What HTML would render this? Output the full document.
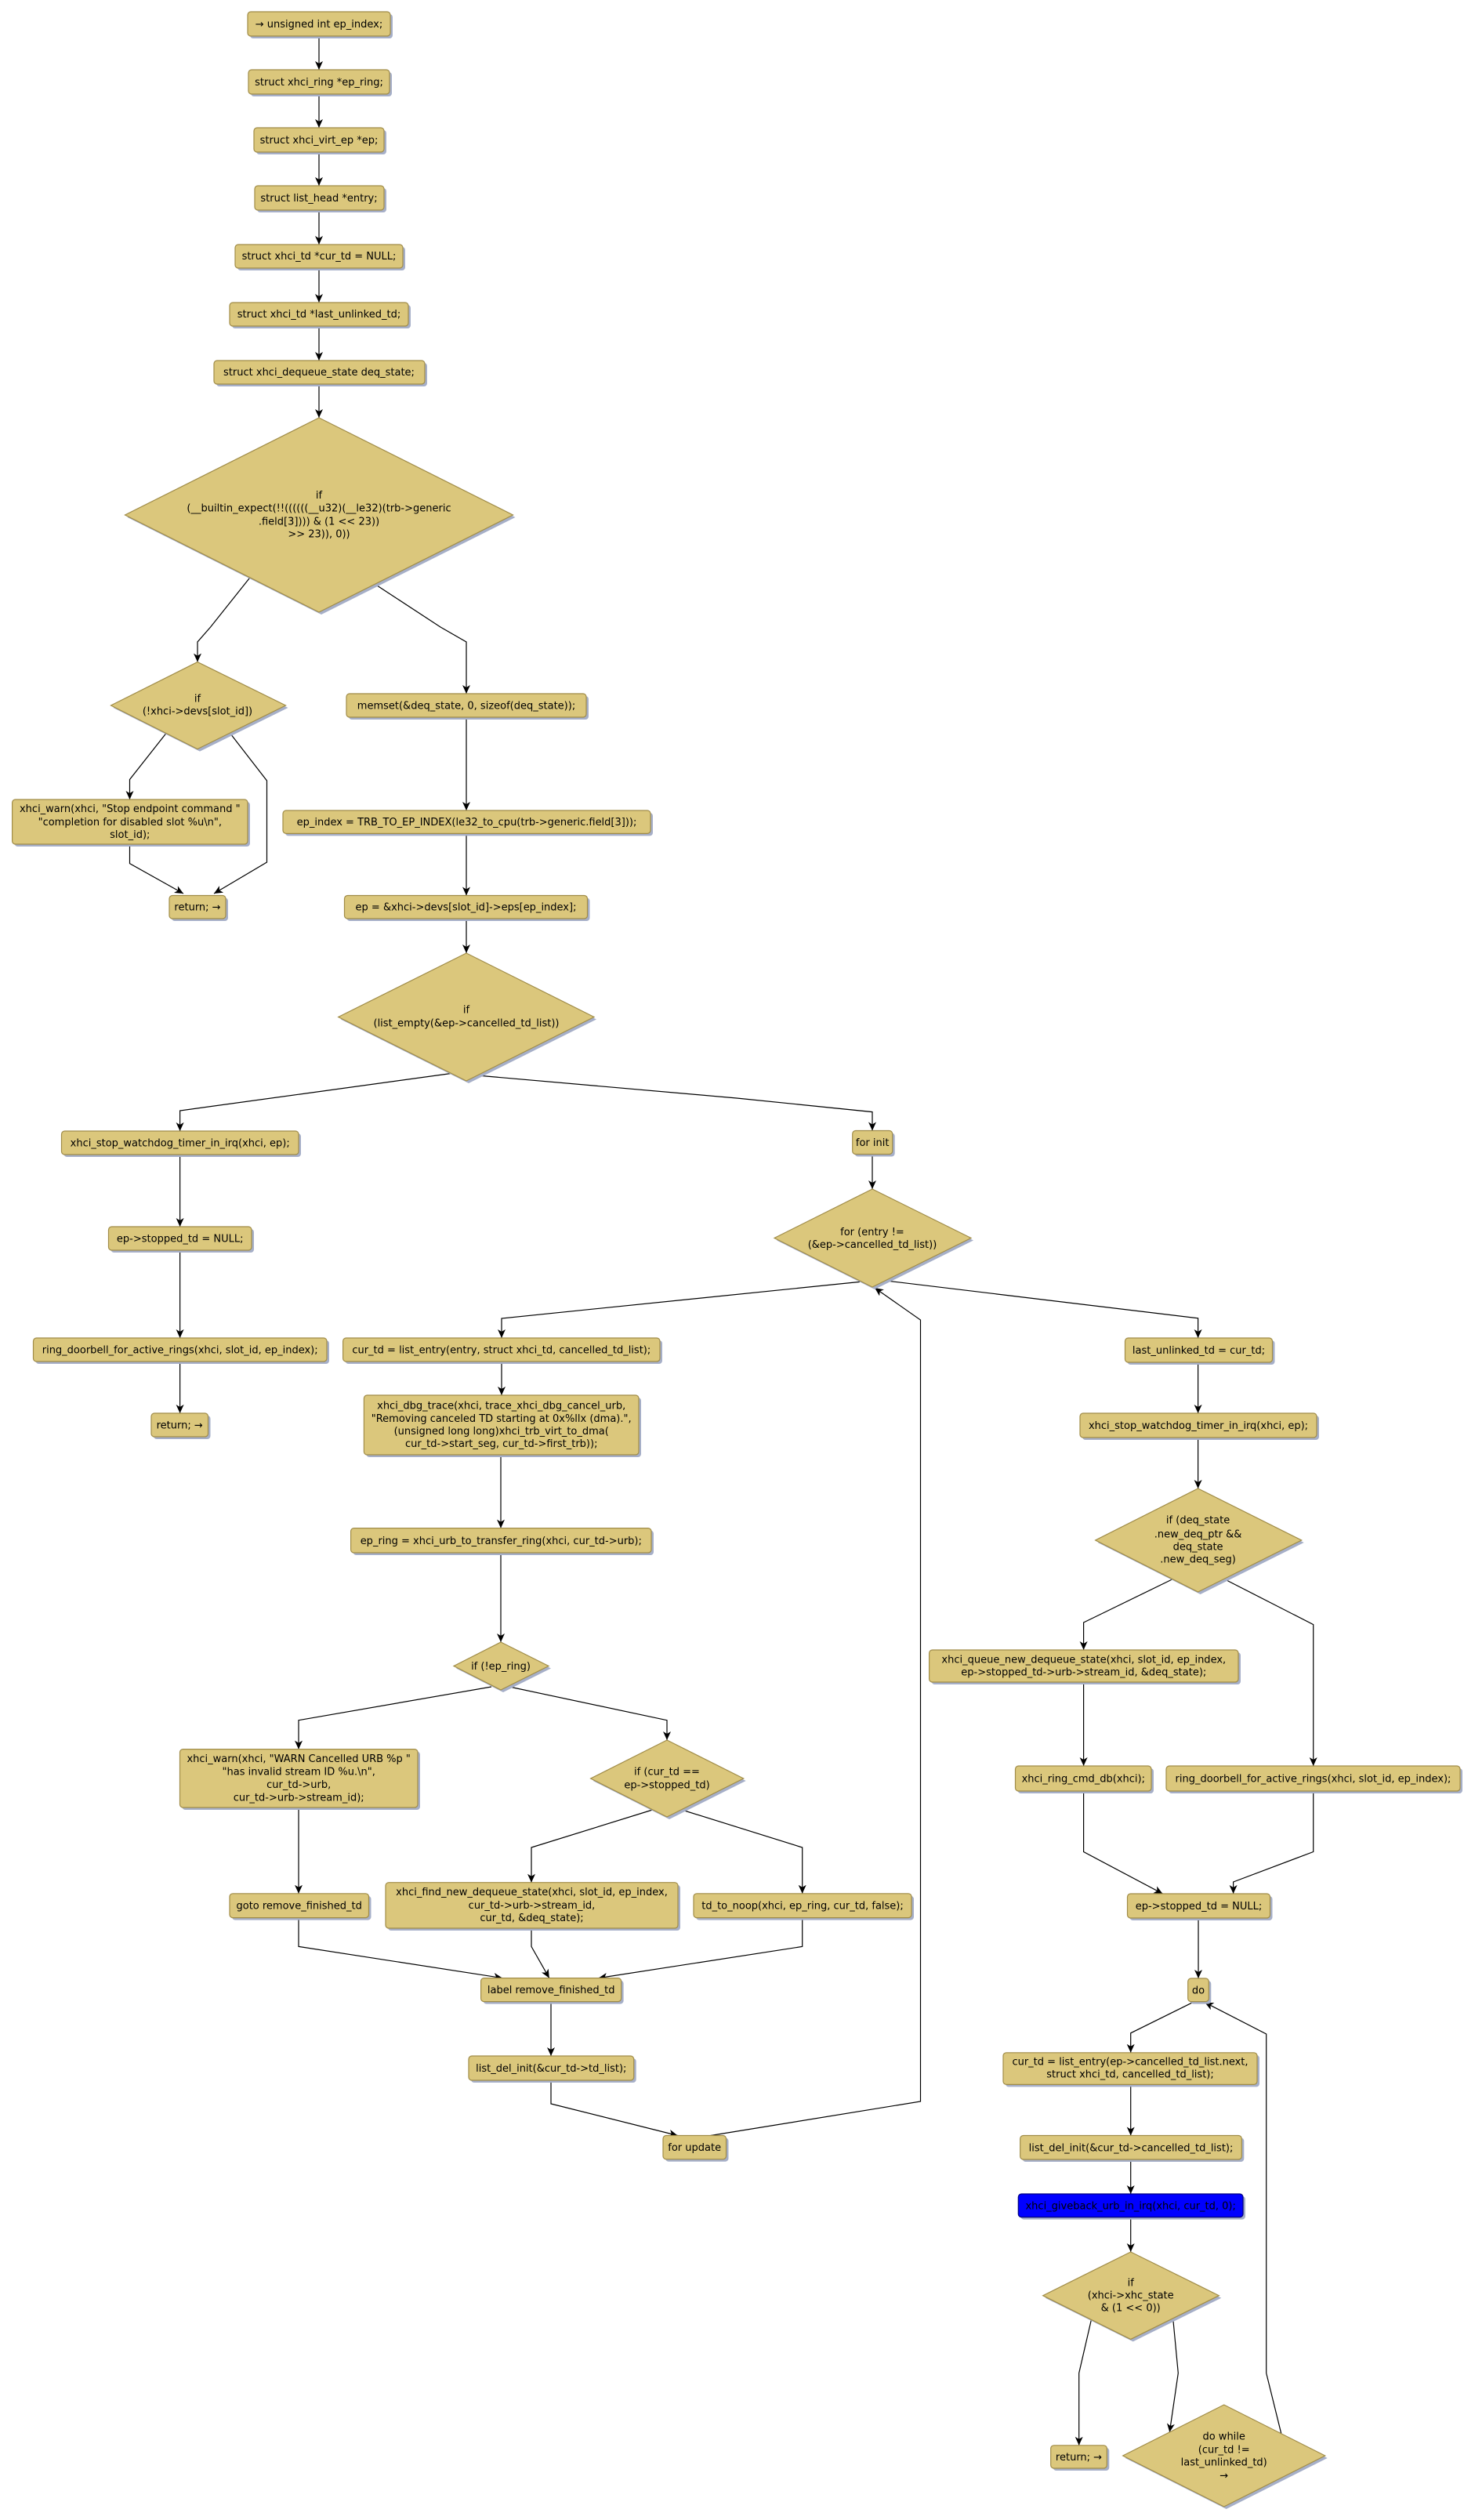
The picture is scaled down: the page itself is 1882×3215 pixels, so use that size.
<!DOCTYPE html>
<html><head><meta charset="utf-8"><style>
html,body{margin:0;padding:0;background:#fff;}
svg{display:block;}
text{font-family:"DejaVu Sans","Liberation Sans",sans-serif;font-size:13px;fill:#000;text-anchor:middle;}
.b{fill:#dbc77c;stroke:#a08c48;stroke-width:1.2;}
.s{fill:#a6afc8;}
.e{fill:none;stroke:#000;stroke-width:1.2;marker-end:url(#a);}
</style></head><body>
<svg width="1882" height="3215" viewBox="0 0 1882 3215" xmlns="http://www.w3.org/2000/svg">
<defs><marker id="a" markerUnits="userSpaceOnUse" markerWidth="14" markerHeight="12" refX="11" refY="5" orient="auto"><path d="M0,0 L11,5 L0,10 L3,5 z" fill="#000"/></marker></defs>

<!-- edges -->
<g>
<path class="e" d="M407,46 L407,89"/>
<path class="e" d="M407,120 L407,163"/>
<path class="e" d="M407,194 L407,237"/>
<path class="e" d="M407,268 L407,312"/>
<path class="e" d="M407,342 L407,386"/>
<path class="e" d="M407,416 L407,460"/>
<path class="e" d="M407,490 L407,533"/>
<path class="e" d="M319.6,736 L268.6,800 L252,819 L252,844.6"/>
<path class="e" d="M478,745 L562,800 L595,819 L595,885"/>
<path class="e" d="M211.6,936 L165.5,994.5 L165.5,1020"/>
<path class="e" d="M294,936 L340.5,996 L340.5,1100 L273,1140"/>
<path class="e" d="M165.5,1077 L165.5,1101.7 L234,1140"/>
<path class="e" d="M595,915 L595,1034"/>
<path class="e" d="M595,1063.4 L595,1142.5"/>
<path class="e" d="M595,1172 L595,1216"/>
<path class="e" d="M575.5,1369.5 L229.6,1417 L229.6,1443"/>
<path class="e" d="M608.5,1372 L940,1401 L1113,1418.6 L1113,1442.5"/>
<path class="e" d="M229.6,1473 L229.6,1565"/>
<path class="e" d="M229.6,1595 L229.6,1707"/>
<path class="e" d="M229.6,1737 L229.6,1803"/>
<path class="e" d="M1113,1472.6 L1113,1517"/>
<path class="e" d="M1097,1635.4 L640,1682 L640,1707"/>
<path class="e" d="M1131,1634 L1528.6,1681.8 L1528.6,1707"/>
<path class="e" d="M640,1737 L640,1780"/>
<path class="e" d="M639,1856 L639,1949.6"/>
<path class="e" d="M639,1981 L639,2095"/>
<path class="e" d="M627,2152 L381,2194.7 L381,2231.6"/>
<path class="e" d="M650,2152 L851,2194.7 L851,2220"/>
<path class="e" d="M381,2306 L381,2415.8"/>
<path class="e" d="M832.5,2309 L678,2357 L678,2401.7"/>
<path class="e" d="M870,2309 L1023.7,2357 L1023.7,2415.8"/>
<path class="e" d="M381,2446.6 L381,2483.4 L641,2523.6"/>
<path class="e" d="M678,2460 L678,2483.4 L700.8,2523.6"/>
<path class="e" d="M1023.7,2446.6 L1023.7,2483.4 L763.6,2523.6"/>
<path class="e" d="M703,2553.7 L703,2623"/>
<path class="e" d="M703,2654 L703,2684 L864.6,2724.5"/>
<path class="e" d="M906.7,2724.5 L1174.5,2681 L1174.5,1684 L1116,1643"/>
<path class="e" d="M1528.6,1738 L1528.6,1803"/>
<path class="e" d="M1528.6,1834 L1528.6,1899"/>
<path class="e" d="M1495.5,2015 L1382.6,2070 L1382.6,2105"/>
<path class="e" d="M1563,2015 L1675.7,2072.6 L1675.7,2253"/>
<path class="e" d="M1382.6,2146 L1382.6,2253"/>
<path class="e" d="M1382.6,2285 L1382.6,2362.5 L1483.5,2416"/>
<path class="e" d="M1675.7,2285 L1675.7,2362.5 L1573.6,2401 L1573.6,2416"/>
<path class="e" d="M1529,2447 L1529,2524"/>
<path class="e" d="M1521.7,2554.7 L1442.7,2593.8 L1442.7,2618.8"/>
<path class="e" d="M1635,3105.7 L1615.7,3027.6 L1615.7,2595 L1537.3,2554.7"/>
<path class="e" d="M1442.7,2659.4 L1442.7,2724.5"/>
<path class="e" d="M1442.7,2755 L1442.7,2799"/>
<path class="e" d="M1442.7,2828.6 L1442.7,2873"/>
<path class="e" d="M1392.3,2960 L1376.7,3027.6 L1376.7,3119.8"/>
<path class="e" d="M1496.7,2958 L1503.3,3027.6 L1492.3,3103"/>
</g>

<!-- boxes: shadow + box -->
<g>
<rect class="s" x="319" y="18" width="182" height="31" rx="4"/><rect class="b" x="316" y="15" width="182" height="31" rx="4"/>
<rect class="s" x="320" y="92" width="180" height="31" rx="4"/><rect class="b" x="317" y="89" width="180" height="31" rx="4"/>
<rect class="s" x="327" y="166" width="166" height="31" rx="4"/><rect class="b" x="324" y="163" width="166" height="31" rx="4"/>
<rect class="s" x="328" y="240" width="165" height="31" rx="4"/><rect class="b" x="325" y="237" width="165" height="31" rx="4"/>
<rect class="s" x="303" y="315" width="214" height="30" rx="4"/><rect class="b" x="300" y="312" width="214" height="30" rx="4"/>
<rect class="s" x="296" y="389" width="228" height="30" rx="4"/><rect class="b" x="293" y="386" width="228" height="30" rx="4"/>
<rect class="s" x="276" y="463" width="269" height="30" rx="4"/><rect class="b" x="273" y="460" width="269" height="30" rx="4"/>

<rect class="s" x="445" y="888" width="306" height="30" rx="4"/><rect class="b" x="442" y="885" width="306" height="30" rx="4"/>
<rect class="s" x="18.6" y="1023" width="300.4" height="57" rx="4"/><rect class="b" x="15.6" y="1020" width="300.4" height="57" rx="4"/>
<rect class="s" x="219" y="1145.5" width="72" height="29.5" rx="4"/><rect class="b" x="216" y="1142.5" width="72" height="29.5" rx="4"/>
<rect class="s" x="364" y="1037" width="469" height="29.4" rx="4"/><rect class="b" x="361" y="1034" width="469" height="29.4" rx="4"/>
<rect class="s" x="442.5" y="1145.5" width="310" height="29.5" rx="4"/><rect class="b" x="439.5" y="1142.5" width="310" height="29.5" rx="4"/>
<rect class="s" x="81.5" y="1446" width="302.5" height="30" rx="4"/><rect class="b" x="78.5" y="1443" width="302.5" height="30" rx="4"/>
<rect class="s" x="141.5" y="1568" width="182.5" height="30" rx="4"/><rect class="b" x="138.5" y="1565" width="182.5" height="30" rx="4"/>
<rect class="s" x="45.5" y="1710" width="374.5" height="30" rx="4"/><rect class="b" x="42.5" y="1707" width="374.5" height="30" rx="4"/>
<rect class="s" x="196" y="1806" width="72.5" height="30" rx="4"/><rect class="b" x="193" y="1803" width="72.5" height="30" rx="4"/>
<rect class="s" x="1090.7" y="1445.5" width="51" height="30" rx="4"/><rect class="b" x="1087.7" y="1442.5" width="51" height="30" rx="4"/>
<rect class="s" x="440.6" y="1710" width="404.4" height="30" rx="4"/><rect class="b" x="437.6" y="1707" width="404.4" height="30" rx="4"/>
<rect class="s" x="467.4" y="1783" width="350.6" height="76" rx="4"/><rect class="b" x="464.4" y="1780" width="350.6" height="76" rx="4"/>
<rect class="s" x="450.6" y="1952.6" width="383.4" height="31.4" rx="4"/><rect class="b" x="447.6" y="1949.6" width="383.4" height="31.4" rx="4"/>
<rect class="s" x="232.5" y="2234.6" width="303.5" height="74.4" rx="4"/><rect class="b" x="229.5" y="2231.6" width="303.5" height="74.4" rx="4"/>
<rect class="s" x="296" y="2418.8" width="177.5" height="30.8" rx="4"/><rect class="b" x="293" y="2415.8" width="177.5" height="30.8" rx="4"/>
<rect class="s" x="495" y="2404.7" width="373" height="58.3" rx="4"/><rect class="b" x="492" y="2401.7" width="373" height="58.3" rx="4"/>
<rect class="s" x="888" y="2418.8" width="278" height="30.8" rx="4"/><rect class="b" x="885" y="2415.8" width="278" height="30.8" rx="4"/>
<rect class="s" x="616.6" y="2526.6" width="179" height="30" rx="4"/><rect class="b" x="613.6" y="2523.6" width="179" height="30" rx="4"/>
<rect class="s" x="601" y="2626" width="210.7" height="31" rx="4"/><rect class="b" x="598" y="2623" width="210.7" height="31" rx="4"/>
<rect class="s" x="849" y="2727.5" width="80.5" height="30.2" rx="4"/><rect class="b" x="846" y="2724.5" width="80.5" height="30.2" rx="4"/>
<rect class="s" x="1438.5" y="1710" width="188" height="31" rx="4"/><rect class="b" x="1435.5" y="1707" width="188" height="31" rx="4"/>
<rect class="s" x="1381" y="1806" width="302" height="31" rx="4"/><rect class="b" x="1378" y="1803" width="302" height="31" rx="4"/>
<rect class="s" x="1188.6" y="2108" width="394.4" height="41" rx="4"/><rect class="b" x="1185.6" y="2105" width="394.4" height="41" rx="4"/>
<rect class="s" x="1298.5" y="2256" width="173.5" height="32" rx="4"/><rect class="b" x="1295.5" y="2253" width="173.5" height="32" rx="4"/>
<rect class="s" x="1491" y="2256" width="375" height="32" rx="4"/><rect class="b" x="1488" y="2253" width="375" height="32" rx="4"/>
<rect class="s" x="1441.5" y="2419" width="182" height="31" rx="4"/><rect class="b" x="1438.5" y="2416" width="182" height="31" rx="4"/>
<rect class="s" x="1518.7" y="2527" width="26.6" height="29.6" rx="4"/><rect class="b" x="1515.7" y="2524" width="26.6" height="29.6" rx="4"/>
<rect class="s" x="1283" y="2621.8" width="324" height="40.6" rx="4"/><rect class="b" x="1280" y="2618.8" width="324" height="40.6" rx="4"/>
<rect class="s" x="1304.7" y="2727.5" width="282.6" height="30.5" rx="4"/><rect class="b" x="1301.7" y="2724.5" width="282.6" height="30.5" rx="4"/>
<rect class="s" x="1302.3" y="2802" width="286.7" height="29.6" rx="4"/><rect x="1299.3" y="2799" width="286.7" height="29.6" rx="4" fill="#0000ff" stroke="#000080" stroke-width="1.2"/>
<rect class="s" x="1343.7" y="3122.8" width="71.6" height="29.2" rx="4"/><rect class="b" x="1340.7" y="3119.8" width="71.6" height="29.2" rx="4"/>
</g>

<!-- diamonds -->
<g>
<polygon class="s" points="410,536 657.5,660 410,784 162.5,660"/><polygon class="b" points="407,533 654.5,657 407,781 159.5,657"/>
<polygon class="s" points="255,847.6 367.5,903 255,958.6 144.5,903"/><polygon class="b" points="252,844.6 364.5,900 252,955.6 141.5,900"/>
<polygon class="s" points="598,1219 761,1300.5 598,1382 434.7,1300.5"/><polygon class="b" points="595,1216 758,1297.5 595,1379 431.7,1297.5"/>
<polygon class="s" points="1116,1520 1242,1582.5 1116,1645 991,1582.5"/><polygon class="b" points="1113,1517 1239,1579.5 1113,1642 988,1579.5"/>
<polygon class="s" points="1531.6,1902 1663.7,1968 1531.6,2034 1400.7,1968"/><polygon class="b" points="1528.6,1899 1660.7,1965 1528.6,2031 1397.7,1965"/>
<polygon class="s" points="642,2098 703,2128.5 642,2159 582,2128.5"/><polygon class="b" points="639,2095 700,2125.5 639,2156 579,2125.5"/>
<polygon class="s" points="854,2223 951.7,2272 854,2321 756.6,2272"/><polygon class="b" points="851,2220 948.7,2269 851,2318 753.6,2269"/>
<polygon class="s" points="1445.7,2876 1558.3,2931.7 1445.7,2987.4 1333.7,2931.7"/><polygon class="b" points="1442.7,2873 1555.3,2928.7 1442.7,2984.4 1330.7,2928.7"/>
<polygon class="s" points="1564.7,3071 1693.7,3136 1564.7,3201 1435.7,3136"/><polygon class="b" points="1561.7,3068 1690.7,3133 1561.7,3198 1432.7,3133"/>
</g>

<!-- text -->
<g>
<text x="407" y="35">→ unsigned int ep_index;</text>
<text x="407" y="109">struct xhci_ring *ep_ring;</text>
<text x="407" y="183">struct xhci_virt_ep *ep;</text>
<text x="407" y="257">struct list_head *entry;</text>
<text x="407" y="331">struct xhci_td *cur_td = NULL;</text>
<text x="407" y="405">struct xhci_td *last_unlinked_td;</text>
<text x="407" y="479">struct xhci_dequeue_state deq_state;</text>
<text x="407" y="636">if</text>
<text x="407" y="652.5">(__builtin_expect(!!((((((__u32)(__le32)(trb-&gt;generic</text>
<text x="407" y="669.5">.field[3]))) &amp; (1 &lt;&lt; 23))</text>
<text x="407" y="685.5">&gt;&gt; 23)), 0))</text>
<text x="252" y="895.5">if</text>
<text x="252" y="911.5">(!xhci-&gt;devs[slot_id])</text>
<text x="595" y="904.5">memset(&amp;deq_state, 0, sizeof(deq_state));</text>
<text x="165.8" y="1036">xhci_warn(xhci, "Stop endpoint command "</text>
<text x="165.8" y="1053">"completion for disabled slot %u\n",</text>
<text x="165.8" y="1069">slot_id);</text>
<text x="252" y="1161.5">return; →</text>
<text x="595.5" y="1053">ep_index = TRB_TO_EP_INDEX(le32_to_cpu(trb-&gt;generic.field[3]));</text>
<text x="594.5" y="1161.5">ep = &amp;xhci-&gt;devs[slot_id]-&gt;eps[ep_index];</text>
<text x="595" y="1292.5">if</text>
<text x="595" y="1309.5">(list_empty(&amp;ep-&gt;cancelled_td_list))</text>
<text x="229.7" y="1462.5">xhci_stop_watchdog_timer_in_irq(xhci, ep);</text>
<text x="229.7" y="1584.5">ep-&gt;stopped_td = NULL;</text>
<text x="229.7" y="1726.5">ring_doorbell_for_active_rings(xhci, slot_id, ep_index);</text>
<text x="229.2" y="1822.5">return; →</text>
<text x="1113.2" y="1462">for init</text>
<text x="1113" y="1576">for (entry !=</text>
<text x="1113" y="1592">(&amp;ep-&gt;cancelled_td_list))</text>
<text x="639.8" y="1726.5">cur_td = list_entry(entry, struct xhci_td, cancelled_td_list);</text>
<text x="639.7" y="1797.5">xhci_dbg_trace(xhci, trace_xhci_dbg_cancel_urb,</text>
<text x="639.7" y="1814">"Removing canceled TD starting at 0x%llx (dma).",</text>
<text x="639.7" y="1830">(unsigned long long)xhci_trb_virt_to_dma(</text>
<text x="639.7" y="1846">cur_td-&gt;start_seg, cur_td-&gt;first_trb));</text>
<text x="639.3" y="1970">ep_ring = xhci_urb_to_transfer_ring(xhci, cur_td-&gt;urb);</text>
<text x="639" y="2130">if (!ep_ring)</text>
<text x="381.2" y="2248">xhci_warn(xhci, "WARN Cancelled URB %p "</text>
<text x="381.2" y="2264.5">"has invalid stream ID %u.\n",</text>
<text x="381.2" y="2281">cur_td-&gt;urb,</text>
<text x="381.2" y="2297.5">cur_td-&gt;urb-&gt;stream_id);</text>
<text x="851" y="2264.5">if (cur_td ==</text>
<text x="851" y="2281.5">ep-&gt;stopped_td)</text>
<text x="381.7" y="2435.5">goto remove_finished_td</text>
<text x="678.5" y="2418">xhci_find_new_dequeue_state(xhci, slot_id, ep_index,</text>
<text x="678.5" y="2435">cur_td-&gt;urb-&gt;stream_id,</text>
<text x="678.5" y="2451">cur_td, &amp;deq_state);</text>
<text x="1024" y="2435.5">td_to_noop(xhci, ep_ring, cur_td, false);</text>
<text x="703.2" y="2543">label remove_finished_td</text>
<text x="703.3" y="2643">list_del_init(&amp;cur_td-&gt;td_list);</text>
<text x="886.2" y="2744">for update</text>
<text x="1529.5" y="1727">last_unlinked_td = cur_td;</text>
<text x="1529" y="1823">xhci_stop_watchdog_timer_in_irq(xhci, ep);</text>
<text x="1528.6" y="1943.5">if (deq_state</text>
<text x="1528.6" y="1961.5">.new_deq_ptr &amp;&amp;</text>
<text x="1528.6" y="1977.5">deq_state</text>
<text x="1528.6" y="1993.5">.new_deq_seg)</text>
<text x="1382.8" y="2121.5">xhci_queue_new_dequeue_state(xhci, slot_id, ep_index,</text>
<text x="1382.8" y="2137.5">ep-&gt;stopped_td-&gt;urb-&gt;stream_id, &amp;deq_state);</text>
<text x="1382.3" y="2273.5">xhci_ring_cmd_db(xhci);</text>
<text x="1675.5" y="2273.5">ring_doorbell_for_active_rings(xhci, slot_id, ep_index);</text>
<text x="1529.5" y="2436">ep-&gt;stopped_td = NULL;</text>
<text x="1529" y="2543.5">do</text>
<text x="1442" y="2634.5">cur_td = list_entry(ep-&gt;cancelled_td_list.next,</text>
<text x="1442" y="2650.5">struct xhci_td, cancelled_td_list);</text>
<text x="1443" y="2744.5">list_del_init(&amp;cur_td-&gt;cancelled_td_list);</text>
<text x="1442.7" y="2818.5">xhci_giveback_urb_in_irq(xhci, cur_td, 0);</text>
<text x="1442.7" y="2916.5">if</text>
<text x="1442.7" y="2932.5">(xhci-&gt;xhc_state</text>
<text x="1442.7" y="2948.5">&amp; (1 &lt;&lt; 0))</text>
<text x="1376.5" y="3139">return; →</text>
<text x="1561.7" y="3112.5">do while</text>
<text x="1561.7" y="3129.5">(cur_td !=</text>
<text x="1561.7" y="3145.5">last_unlinked_td)</text>
<text x="1561.7" y="3162.5">→</text>
</g>
</svg>
</body></html>
